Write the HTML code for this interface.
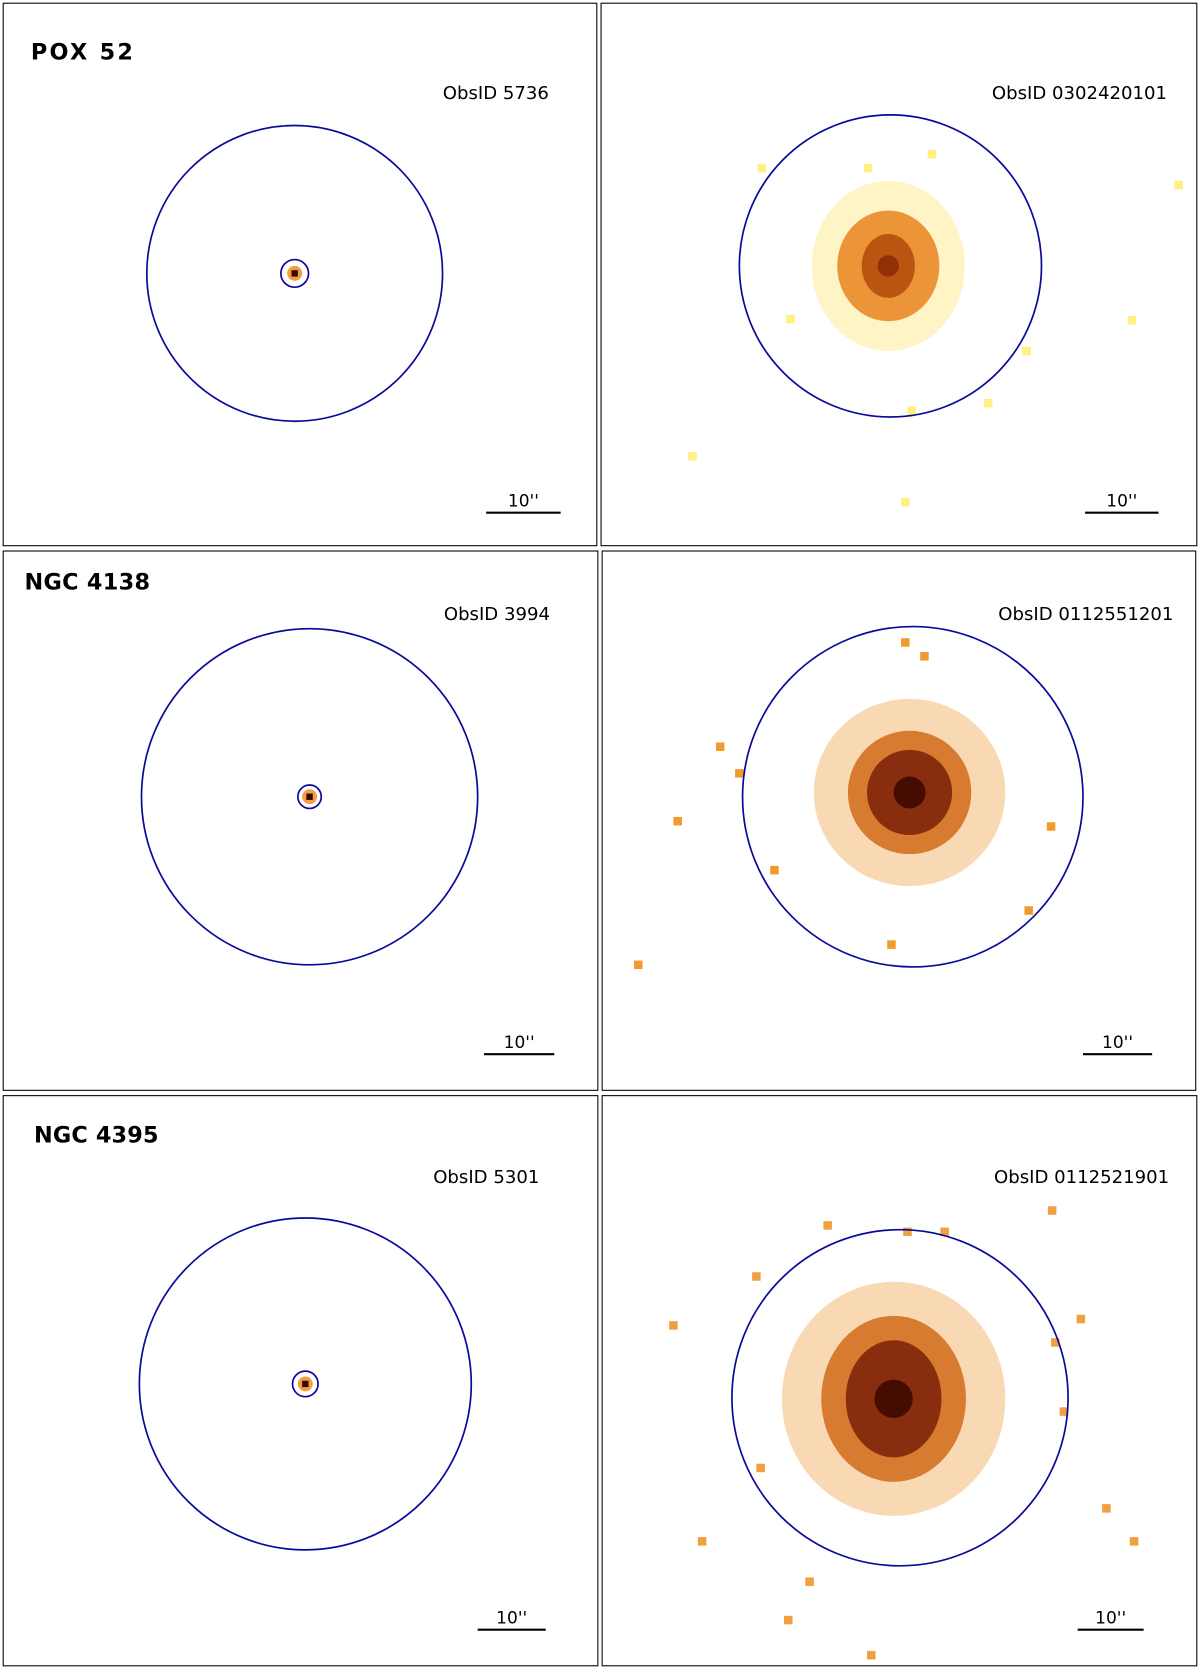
<!DOCTYPE html>
<html><head><meta charset="utf-8"><style>
html,body{margin:0;padding:0;background:#fff;}
svg{display:block;}
text{font-family:"DejaVu Sans","Liberation Sans",sans-serif;fill:#000;}
</style></head><body>
<svg id="fig" width="1200" height="1669" viewBox="0 0 1128 1569" preserveAspectRatio="none" xmlns="http://www.w3.org/2000/svg">
<rect x="3" y="3" width="558" height="510" fill="none" stroke="#000" stroke-width="1"/>
<rect x="565" y="3" width="560" height="510" fill="none" stroke="#000" stroke-width="1"/>
<rect x="3" y="518" width="559" height="507" fill="none" stroke="#000" stroke-width="1"/>
<rect x="566" y="518" width="558" height="507" fill="none" stroke="#000" stroke-width="1"/>
<rect x="3" y="1030" width="559" height="536" fill="none" stroke="#000" stroke-width="1"/>
<rect x="566" y="1030" width="559" height="536" fill="none" stroke="#000" stroke-width="1"/>
<g id="marks"></g>
<text x="29" y="56" font-size="21" font-weight="bold" textLength="96">POX 52</text>
<text x="23" y="554" font-size="21" font-weight="bold" textLength="118">NGC 4138</text>
<text x="32" y="1074" font-size="21" font-weight="bold" textLength="117">NGC 4395</text>
<text x="516" y="93" font-size="17" text-anchor="end">ObsID 5736</text>
<text x="1097" y="93" font-size="17" text-anchor="end">ObsID 0302420101</text>
<text x="517" y="583" font-size="17" text-anchor="end">ObsID 3994</text>
<text x="1103" y="583" font-size="17" text-anchor="end">ObsID 0112551201</text>
<text x="507" y="1112" font-size="17" text-anchor="end">ObsID 5301</text>
<text x="1099" y="1112" font-size="17" text-anchor="end">ObsID 0112521901</text>
</svg>
<script>
const circleCx=[277,837,291,858,287,846];
const circleCy=[257,250,749,749,1301,1314];
const circleR=[139,142,158,160,156,158];
const srcCx=[277,291,287];
const srcCy=[257,749,1301];
const srcR=[13,11,12];
const blobCx=[835,855,840];
const blobCy=[250,745,1315];
const blobRx=[[72,48,25,10],[90,58,40,15],[105,68,45,18]];
const blobRy=[[80,52,30,10],[88,58,40,15],[110,78,55,18]];
const blobColors=[["#ffe680","#e8821e","#b04a0a","#8a2a05"],["#f0a040","#d06a18","#7a2008","#3a0800"],["#f0a040","#d06a18","#7a2008","#3a0800"]];
const blobHaloOpacity=[0.45,0.4,0.4];
const scatterX=[[716,1108,1064,651,851,929,857,965,743,876,816],[677,637,600,967,838,851,869,695,728,988],[989,633,1016,660,1040,1066,819,741,761,778,853,888,711,992,1000,715]];
const scatterY=[[158,174,301,429,472,379,386,330,300,145,158],[702,772,907,856,888,604,617,727,818,777],[1138,1246,1240,1449,1418,1449,1556,1523,1487,1152,1158,1158,1200,1262,1327,1380]];
const scatterColor=["#fff080","#f09a30","#f0a040"];
const scaleX0=[457,1020,455,1018,449,1013];
const scaleX1=[527,1089,521,1083,513,1075];
const scaleY=[482,482,991,991,1532,1532];
const scaleLabel=["10''","10''","10''","10''","10''","10''"];
const NS="http://www.w3.org/2000/svg";
const g=document.getElementById('marks');
function mk(t,a){const e=document.createElementNS(NS,t);for(const k in a)e.setAttribute(k,a[k]);g.appendChild(e);return e;}
for(let b=0;b<3;b++){
  for(let l=0;l<4;l++){
    const e=mk('ellipse',{cx:blobCx[b],cy:blobCy[b],rx:blobRx[b][l],ry:blobRy[b][l],fill:blobColors[b][l],opacity:l==0?blobHaloOpacity[b]:0.85});
    
    
  }
  for(let i=0;i<scatterX[b].length;i++){
    const e=mk('rect',{x:scatterX[b][i]-4,y:scatterY[b][i]-4,width:8,height:8,fill:scatterColor[b]});
    
    
  }
}
for(let i=0;i<3;i++){
  const a=mk('circle',{cx:srcCx[i],cy:srcCy[i],r:7,fill:'#f0a040'});
  
  
  const c=mk('rect',{x:srcCx[i]-3,y:srcCy[i]-3,width:6,height:6,fill:'#3a0800'});
  
  
  const s=mk('circle',{cx:srcCx[i],cy:srcCy[i],r:srcR[i],fill:'none',stroke:'#0a0a9a','stroke-width':1.6});
  
  
}
for(let i=0;i<6;i++){
  const c=mk('circle',{cx:circleCx[i],cy:circleCy[i],r:circleR[i],fill:'none',stroke:'#0a0a9a','stroke-width':1.6});
  
  
  const l=mk('line',{x1:scaleX0[i],x2:scaleX1[i],y1:scaleY[i],y2:scaleY[i],stroke:'#000','stroke-width':2});
  
  
  const t=mk('text',{x:(scaleX0[i]+scaleX1[i])/2,y:scaleY[i]-6,'font-size':16,'text-anchor':'middle'});
  t.textContent=scaleLabel[i];
  
  
}
</script>
</body></html>
